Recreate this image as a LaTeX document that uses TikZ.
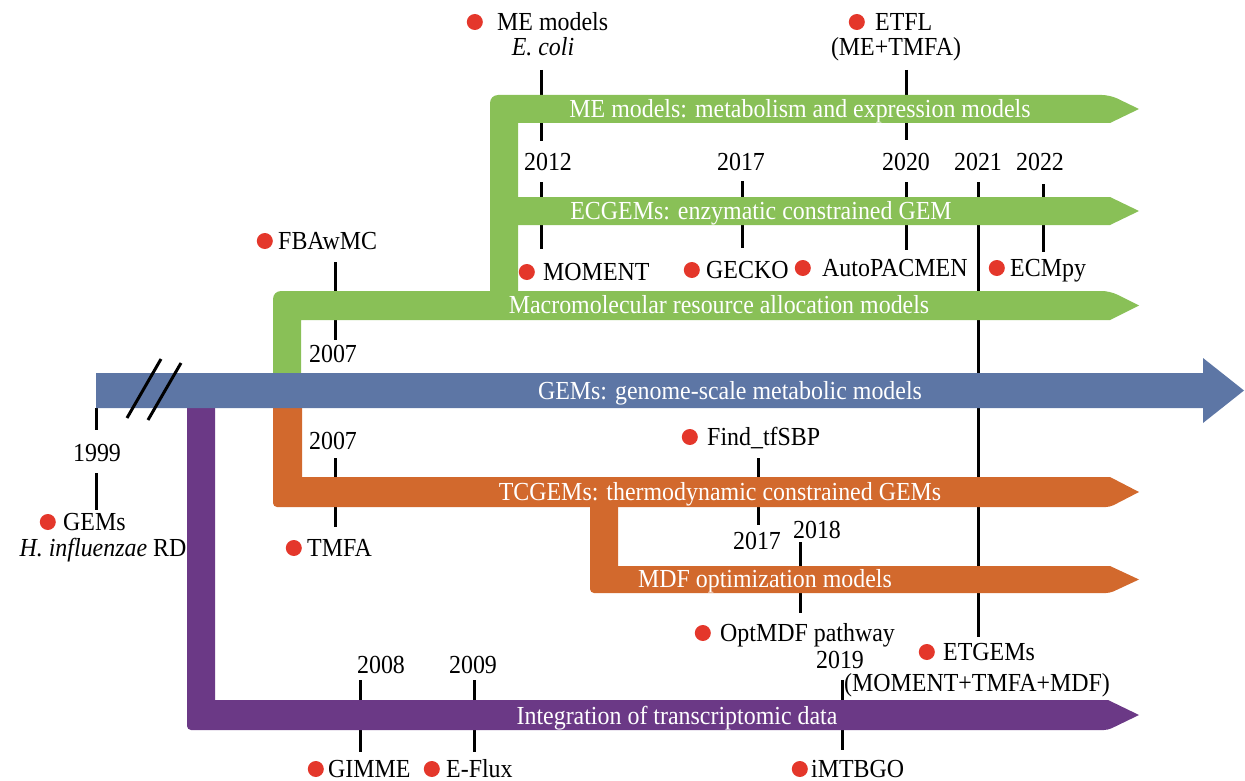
\documentclass[tikz,border=0pt]{standalone}
\usepackage{fontspec}
\setmainfont{Liberation Serif}[FakeStretch=0.92]
\usetikzlibrary{positioning}
\definecolor{gemblue}{RGB}{93,118,165}
\definecolor{grn}{RGB}{137,192,87}
\definecolor{org}{RGB}{210,105,45}
\definecolor{purp}{RGB}{107,57,134}
\definecolor{reddot}{RGB}{228,55,43}
\begin{document}
\begin{tikzpicture}[x=1pt, y=-1pt, font=\fontsize{26}{30}\selectfont, line join=round,
	every node/.style={inner sep=0pt, text height=17pt, text depth=0pt},
	tick/.style={line width=3pt},
	bartext/.style={text=white},
	mname/.style={anchor=west},
	rdot/.style={circle, fill=reddot, minimum size=16pt, text height=, text depth=}]
	\useasboundingbox (0,0) rectangle (1245,781);
	% vạch năm (vẽ trước, các thanh phủ lên)
	\draw[tick] (978,182) -- (978,637);
	\foreach \x/\a/\b in {96/408/430, 96/473/510, 335/262/340, 335/458/527,
		541/70/141, 541/182/249, 742/181/248, 906/70/140, 906/182/250,
		1043/184/252, 758/458/525, 800/542/613, 360/680/752, 474/680/752, 842/680/750}
		\draw[tick] (\x,\a) -- (\x,\b);
	% thanh xanh lá
	\fill[grn] (273,378) [rounded corners=8pt] |- (1110,291) [sharp corners] -- (1139,305.5) -- (1110,320) -- (301,320) -- (301,378) -- cycle;
	\fill[grn] (490,295) [rounded corners=8pt] |- (1110,95) [sharp corners] -- (1139,109) -- (1110,123) -- (518,123) -- (518,295) -- cycle;
	\fill[grn] (516,197) -- (1110,197) -- (1139,211) -- (1110,225) -- (516,225) -- cycle;
	% thanh cam
	\fill[org] (273,405) [rounded corners=4pt] |- (1110,507) [sharp corners] -- (1139,492) -- (1110,477) -- (302,477) -- (302,405) -- cycle;
	\fill[org] (590,500) [rounded corners=4pt] |- (1110,593) [sharp corners] -- (1139,579.5) -- (1110,566) -- (618,566) -- (618,500) -- cycle;
	% thanh tím
	\fill[purp] (187,405) [rounded corners=4pt] |- (1108,730) [sharp corners] -- (1139,715) -- (1108,700) -- (215,700) -- (215,405) -- cycle;
	% trục chính
	\fill[gemblue] (96,373) -- (1203,373) -- (1203,358) -- (1244,390.5) -- (1203,423) -- (1203,408) -- (96,408) -- cycle;
	\draw[tick] (127,418) -- (161,359);
	\draw[tick] (148,420) -- (181,363);
	% chữ trên thanh
	\node[bartext] (gems) at (730,391) {GEMs: genome-scale metabolic models};
	\node[bartext] (mra) at (719,305) {Macromolecular resource allocation models};
	\node[bartext] (me) at (800,109) {ME models: metabolism and expression models};
	\node[bartext] (ec) at (761,211) {ECGEMs: enzymatic constrained GEM};
	\node[bartext] (tc) at (720,492) {TCGEMs: thermodynamic constrained GEMs};
	\node[bartext] (mdf) at (765,579) {MDF optimization models};
	\node[bartext] (trans) at (677,716) {Integration of transcriptomic data};
	% năm
	\node (y1999) at (97,453) {1999};
	\node (y2007a) at (333,354) {2007};
	\node (y2007b) at (333,441) {2007};
	\node (y2012) at (548,162) {2012};
	\node (y2017a) at (741,162) {2017};
	\node (y2020) at (906,162) {2020};
	\node (y2021) at (978,162) {2021};
	\node (y2022) at (1040,162) {2022};
	\node (y2017b) at (757,541) {2017};
	\node (y2018) at (817,530) {2018};
	\node (y2008) at (381,665) {2008};
	\node (y2009) at (473,665) {2009};
	\node (y2019) at (840,660) {2019};
	% mô hình
	\node[mname] (gemsh) at (63,522) {GEMs};
	\node[rdot, left=7pt of gemsh] (d1) {};
	\node (hinf) at (103,548) {\textit{H. influenzae} RD};
	\node[mname] (fba) at (278,241) {FBAwMC};
	\node[rdot, left=5pt of fba] (d2) {};
	\node[mname] (mem) at (497,22) {ME models};
	\node[rdot, left=14pt of mem] (d3) {};
	\node (ecoli) at (543,47) {\textit{E. coli}};
	\node[mname] (etfl) at (875,22) {ETFL};
	\node[rdot, left=10pt of etfl] (d4) {};
	\node (metmfa) at (896,47) {(ME+TMFA)};
	\node[mname] (moment) at (543,272) {MOMENT};
	\node[rdot, left=8pt of moment] (d5) {};
	\node[mname] (gecko) at (706,270) {GECKO};
	\node[rdot, left=6pt of gecko] (d6) {};
	\node[mname] (autop) at (822,268) {AutoPACMEN};
	\node[rdot, left=11pt of autop] (d7) {};
	\node[mname] (ecmpy) at (1010,268) {ECMpy};
	\node[rdot, left=5pt of ecmpy] (d8) {};
	\node[mname] (tmfa) at (307,548) {TMFA};
	\node[rdot, left=5pt of tmfa] (d9) {};
	\node[mname] (find) at (707,437) {Find\_tfSBP};
	\node[rdot, left=9pt of find] (d10) {};
	\node[mname] (optmdf) at (720,633) {OptMDF pathway};
	\node[rdot, left=9pt of optmdf] (d11) {};
	\node[mname] (etgem) at (943,652) {ETGEMs};
	\node[rdot, left=8pt of etgem] (d12) {};
	\node (mtm) at (977,683) {(MOMENT+TMFA+MDF)};
	\node[mname] (gimme) at (328,769) {GIMME};
	\node[rdot, left=4pt of gimme] (d13) {};
	\node[mname] (eflux) at (446,769) {E-Flux};
	\node[rdot, left=6pt of eflux] (d14) {};
	\node[mname] (imtb) at (811,769) {iMTBGO};
	\node[rdot, left=3pt of imtb] (d15) {};
\end{tikzpicture}
\end{document}
